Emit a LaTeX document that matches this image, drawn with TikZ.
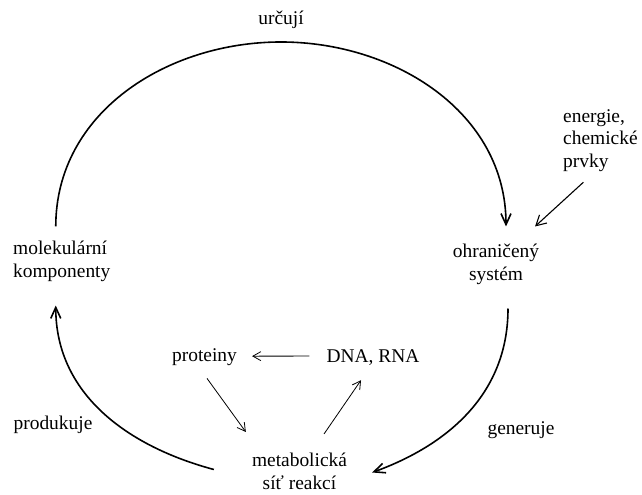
\documentclass[tikz,border=0pt]{standalone}
\usepackage{fontspec}
\setmainfont{Liberation Serif}
\usetikzlibrary{arrows.meta,positioning}

\begin{document}
\begin{tikzpicture}[x=1bp, y=1bp,
    term/.style={inner sep=0pt, font=\fontsize{19.5}{23}\selectfont, align=center},
    verb/.style={inner sep=0pt, font=\fontsize{19.5}{23}\selectfont},
    loopline/.style={line width=1.6bp, -{Straight Barb[length=11bp, width=10bp, line width=1.6bp]}},
    feedline/.style={line width=1.1bp, -{Straight Barb[length=10bp, width=11bp]}},
    innerline/.style={line width=0.8bp, -{Straight Barb[length=8bp, width=9bp]}}
]
    \useasboundingbox (0,0) rectangle (642,495);

    % parts of the cycle
    \node[term, anchor=west, align=left] (mol) at (13,234) {molekulární\\komponenty};
    \node[term] (sys) at (496,231) {ohraničený\\systém};
    \node[term] (metab) at (299.5,23.5) {metabolická\\síť reakcí};
    \node[term, anchor=west, align=left] (ener) at (563,354.4) {energie,\\chemické\\prvky};
    \node[verb, anchor=base] (prot) at (204.5,133) {proteiny};
    \node[verb, anchor=base] (dna) at (373,132) {DNA, RNA};

    % verbs on the loop
    \node[verb, anchor=base] (urc) at (281,470) {určují};
    \node[verb, anchor=base] (prod) at (53,65) {produkuje};
    \node[verb, anchor=base] (gen) at (521,60) {generuje};

    % big loop
    \coordinate (apex) at (281,453);
    \draw[loopline] ([shift={(-6,14)}]mol.north) to[out=90, in=180] (apex)
        to[out=0, in=90] ([shift={(10,17)}]sys.north);
    \draw[loopline] ([shift={(12,-24)}]sys.south) to[out=270, in=20] ([shift={(25,-1)}]metab.east);
    \draw[loopline] ([shift={(-38,2)}]metab.west) to[out=165, in=270] ([shift={(-6,-24)}]mol.south);

    % input from outside
    \draw[feedline] ([shift={(-17,-10)}]ener.south) -- ([shift={(39,17)}]sys.north);

    % inner triangle
    \draw[innerline] ([shift={(-17,2)}]dna.west) -- ([shift={(15,1.5)}]prot.east);
    \draw[innerline] ([shift={(2.5,-12)}]prot.south) -- ([shift={(-6,21)}]metab.north west);
    \draw[innerline] ([shift={(24.5,19)}]metab.north) -- ([shift={(-12,-14)}]dna.south);
\end{tikzpicture}
\end{document}
